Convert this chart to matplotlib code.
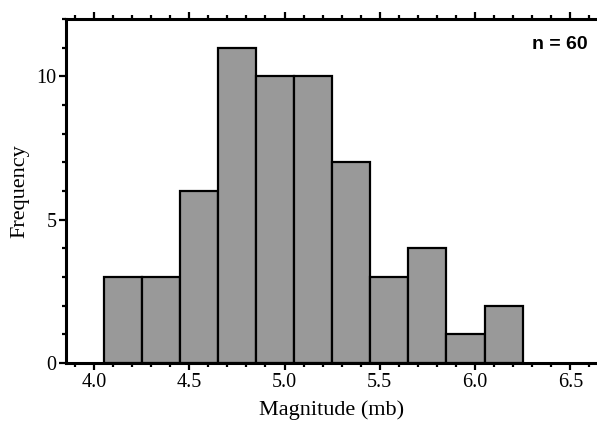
import matplotlib
matplotlib.use("Agg")
import matplotlib.pyplot as plt
from matplotlib.ticker import MultipleLocator

# histogram of body-wave magnitudes
bin_edges = [4.05, 4.25, 4.45, 4.65, 4.85, 5.05, 5.25, 5.45, 5.65, 5.85, 6.05, 6.25]
counts = [3, 3, 6, 11, 10, 10, 7, 3, 4, 1, 2]
xticks = [4.0, 4.5, 5.0, 5.5, 6.0, 6.5]
yticks = [0, 5, 10]

plt.rcParams['font.family'] = 'Liberation Serif'

fig = plt.figure(figsize=(5.97, 4.23), dpi=100)
ax = fig.add_axes([0.1106, 0.1418, 0.8894, 0.8132])

widths = [b - a for a, b in zip(bin_edges[:-1], bin_edges[1:])]
ax.bar(bin_edges[:-1], counts, width=widths, align='edge',
       color='#999999', edgecolor='black', linewidth=1.6, zorder=2)

ax.set_xlim(3.853, 6.64)
ax.set_ylim(0, 12)
ax.set_xticks(xticks)
ax.set_xticklabels([f"{t:.1f}" for t in xticks])
ax.set_yticks(yticks)
ax.xaxis.set_minor_locator(MultipleLocator(0.1))
ax.yaxis.set_minor_locator(MultipleLocator(1))

ax.spines['right'].set_visible(False)
for s in ['left', 'bottom', 'top']:
    ax.spines[s].set_linewidth(2.2)
    ax.spines[s].set_zorder(3)

ax.tick_params(axis='both', which='major', direction='out', length=5, width=1.6,
               labelsize=14.5, pad=2)
ax.tick_params(axis='both', which='minor', direction='out', length=3, width=1.6)
ax.tick_params(axis='x', which='both', top=True, labeltop=False)
ax.tick_params(axis='y', which='both', right=False)

ax.set_xlabel("Magnitude (mb)", fontsize=16, labelpad=6)
ax.set_ylabel("Frequency", fontsize=16, labelpad=5)

ax.text(0.983, 0.925, "n = 60", transform=ax.transAxes, ha='right', va='center',
        fontsize=14, fontweight='bold', family='Liberation Sans')

fig.savefig("out.png", dpi=100)
